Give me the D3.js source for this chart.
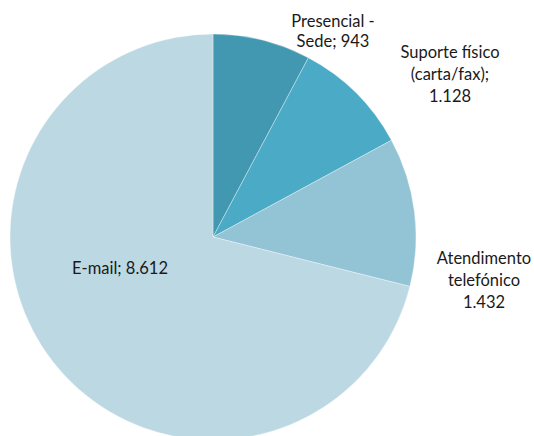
<!DOCTYPE html>
<html>
<head>
<meta charset="utf-8">
<script src="https://cdn.jsdelivr.net/npm/d3@7"></script>
<style>
  html, body { margin: 0; padding: 0; background: #fff; }
  svg { display: block; }
  text { font-family: Lato, "Open Sans", sans-serif; font-size: 16.5px; fill: #1a1a1a; }
</style>
</head>
<body>
<svg id="chart" width="534" height="436"></svg>
<script>
// Atendimentos por canal
const categories = ["Presencial - Sede", "Suporte físico (carta/fax)", "Atendimento telefónico", "E-mail"];
const values = [943, 1128, 1432, 8612];
const colors = ["#4198B0", "#4BAAC6", "#93C4D6", "#BCD8E3"];
// Label lines per slice
const labelLines = [
  ["Presencial -", "Sede; 943"],
  ["Suporte físico", "(carta/fax);", "1.128"],
  ["Atendimento", "telefónico", "1.432"],
  ["E-mail; 8.612"]
];

const svg = d3.select("#chart");
const cx = 213, cy = 237, r = 203;

const pie = d3.pie().sort(null).value(d => d)(values);
const arc = d3.arc().innerRadius(0).outerRadius(r);

const g = svg.append("g").attr("transform", `translate(${cx},${cy})`);
g.selectAll("path")
  .data(pie)
  .join("path")
  .attr("d", arc)
  .attr("fill", (d, i) => colors[i])
  .attr("stroke", "#ffffff")
  .attr("stroke-width", 0.35);

// Label anchors (centre x, first baseline y, line step)
const labelPos = [
  { x: 333, y: 27, step: 20 },
  { x: 450, y: 58, step: 22 },
  { x: 484, y: 264, step: 22 },
  { x: 120, y: 274, step: 20 }
];

const labels = svg.append("g");
labelLines.forEach((lines, i) => {
  const p = labelPos[i];
  const t = labels.append("text")
    .attr("text-anchor", "middle")
    .attr("x", p.x)
    .attr("y", p.y);
  lines.forEach((ln, j) => {
    t.append("tspan")
      .attr("x", p.x)
      .attr("dy", j === 0 ? 0 : p.step)
      .text(ln);
  });
});
</script>
</body>
</html>
